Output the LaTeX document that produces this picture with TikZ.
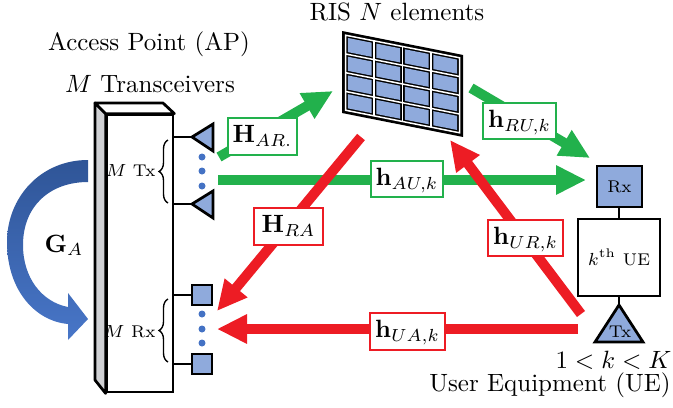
\documentclass[tikz,border=0pt]{standalone}
\usetikzlibrary{arrows.meta,decorations.pathreplacing,calc}
\definecolor{agreen}{RGB}{34,177,76}
\definecolor{ared}{RGB}{237,28,36}
\definecolor{afill}{RGB}{143,170,220}
\definecolor{adot}{RGB}{68,114,196}
\definecolor{gdark}{RGB}{47,85,151}
\definecolor{glight}{RGB}{72,118,200}
\definecolor{sidegray}{RGB}{208,209,212}
\tikzset{
  outl/.style={draw=black, line width=1.1pt},
  ant/.style={outl, fill=afill, line join=miter},
  smalltext/.style={font=\fontsize{6.8}{8}\selectfont},
  lbl/.style={fill=white, line width=0.8pt, inner xsep=2pt, inner ysep=2.8pt,
    text height=7pt, text depth=2pt, minimum width=27.6pt},
  glbl/.style={lbl, draw=agreen},
  rlbl/.style={lbl, draw=ared},
  garrow/.style={draw=agreen, line width=4pt, -{Triangle[width=11pt,length=12pt]}},
  rarrow/.style={draw=ared, line width=4pt, -{Triangle[width=11pt,length=12pt]}},
  bluedot/.style={circle, fill=adot, inner sep=0pt, minimum size=2.8pt},
  bracestyle/.style={decorate, decoration={brace, amplitude=3.6pt}, line width=0.55pt},
}
\begin{document}
\begin{tikzpicture}[x=0.4pt,y=-0.4pt]
\useasboundingbox (0,0) rectangle (673,407);

% ---------- titles ----------
\node[anchor=base, inner sep=0] (aptitle) at (149,50) {Access Point (AP)};
\node[anchor=base, inner sep=0] (aptrx) at (150,92) {$M$ Transceivers};
\node[anchor=base, inner sep=0] (ristitle) at (397,20) {RIS $N$ elements};
\node[anchor=base east, inner sep=0] (krange) at (672,368) {$1 < k < K$};
\node[anchor=base east, inner sep=0] (uetitle) at (671,391) {User Equipment (UE)};

% ---------- self-interference arrow G_A ----------
\shade[top color=gdark, bottom color=glight]
  (88,160) .. controls (40,160) and (7,198) .. (7,242)
  .. controls (7,290) and (35,321) .. (68,324)
  -- (68,340) -- (88,319) -- (68,293) -- (68,307)
  .. controls (42,302) and (23,278) .. (23,245)
  .. controls (23,206) and (50,182) .. (88,182) -- cycle;
\node[anchor=base, inner sep=0] (ga) at (64,252) {$\mathbf{G}_A$};

% ---------- AP box ----------
\node[outl, fill=white, minimum width=26.4pt, minimum height=110.8pt, inner sep=0] (apf) at (140,253.5) {};
\draw[outl, fill=sidegray, line join=round] (apf.north west) -- (95,103) -- (95,380) -- (apf.south west) -- cycle;
\draw[outl, fill=white, line join=round] (apf.north west) -- (95,103) -- (163,103) -- (apf.north east) -- cycle;

% Tx antennas
\coordinate (tx1) at (192,137);
\coordinate (tx2) at (192,204);
\draw[outl] (apf.east |- tx1) -- (tx1);
\draw[outl] (apf.east |- tx2) -- (tx2);
\draw[ant] (tx1) -- ++(21,-13) -- ++(0,27) -- cycle;
\draw[ant] (tx2) -- ++(21,-13) -- ++(0,27) -- cycle;
\node[bluedot] (td1) at (202,157) {};
\node[bluedot] (td2) at (202,171) {};
\node[bluedot] (td3) at (202,186) {};
\draw[bracestyle] (168,203) -- (168,140);
\node[smalltext, anchor=base east, inner sep=0] (mtx) at (156,176) {$M$ Tx};

% Rx antennas
\node[ant, minimum size=8pt, inner sep=0] (rx1) at (202,295) {};
\node[ant, minimum size=8pt, inner sep=0] (rx2) at (202,364) {};
\draw[outl] (apf.east |- rx1) -- (rx1.west);
\draw[outl] (apf.east |- rx2) -- (rx2.west);
\node[bluedot] (rd1) at (202,314) {};
\node[bluedot] (rd2) at (202,329) {};
\node[bluedot] (rd3) at (202,343) {};
\draw[bracestyle] (168,362) -- (168,299);
\node[smalltext, anchor=base east, inner sep=0] (mrx) at (156,337) {$M$ Rx};

% ---------- RIS ----------
\begin{scope}[shift={(342,31)}, yslant=-0.198]
  \fill[black] (0,0) rectangle (121,82);
  \draw[white, line width=0.6pt] (3.5,3.5) rectangle (117.5,78.5);
  \foreach \xx in {32,60.5,89} \draw[white, line width=0.6pt] (\xx,3.5) -- (\xx,78.5);
  \foreach \yy in {22.25,41,59.75} \draw[white, line width=0.6pt] (3.5,\yy) -- (117.5,\yy);
  \foreach \i in {0,...,3} \foreach \j in {0,...,3}
    \fill[afill] ({3.5+28.5*\i+2.3},{3.5+18.75*\j+2.3}) rectangle ({3.5+28.5*(\i+1)-2.3},{3.5+18.75*(\j+1)-2.3});
  \coordinate (ris) at (60,41);
\end{scope}

% ---------- UE ----------
\node[ant, smalltext, minimum width=18pt, minimum height=16.4pt, inner sep=0] (uerx) at (619.5,186.5) {Rx};
\node[outl, fill=white, smalltext, minimum width=32.8pt, minimum height=30.8pt, inner sep=0] (ue) at (619,257.5) {$k^{\mathrm{th}}$ UE};
\draw[outl] (ue.north) -- (ue.north |- uerx.south);
\coordinate (uetx) at (619,305);
\draw[outl] (ue.south) -- (uetx);
\draw[ant] (uetx) -- (643,342) -- (595,342) -- cycle;
\node[smalltext, anchor=base, inner sep=0] (uetxl) at (620,337) {Tx};

% ---------- channel arrows ----------
\coordinate (arS) at (219,157);  \coordinate (arE) at (333,91);
\coordinate (auS) at (218,180);  \coordinate (auE) at (586,180);
\coordinate (ruS) at (471,88);   \coordinate (ruE) at (590,158);
\coordinate (raS) at (361,137);  \coordinate (raE) at (217,311);
\coordinate (urS) at (581,314);  \coordinate (urE) at (450,140);
\coordinate (uaS) at (578,329);  \coordinate (uaE) at (217,329);

\draw[garrow] (arS) -- (arE);
\draw[garrow] (auS) -- (auE);
\draw[garrow] (ruS) -- (ruE);
\draw[rarrow] (raS) -- (raE);
\draw[rarrow] (urS) -- (urE);
\draw[rarrow] (uaS) -- (uaE);

\node[glbl] (lHAR) at (262.5,136.5) {$\mathbf{H}_{AR.}$};
\node[glbl] (lhAU) at (407,179) {$\mathbf{h}_{AU,k}$};
\node[glbl] (lhRU) at (519.5,121) {$\mathbf{h}_{RU,k}$};
\node[rlbl] (lHRA) at (288.5,226.5) {$\mathbf{H}_{RA}$};
\node[rlbl] (lhUR) at (525.5,238) {$\mathbf{h}_{UR,k}$};
\node[rlbl] (lhUA) at (407.5,331.5) {$\mathbf{h}_{UA,k}$};
\end{tikzpicture}
\end{document}
